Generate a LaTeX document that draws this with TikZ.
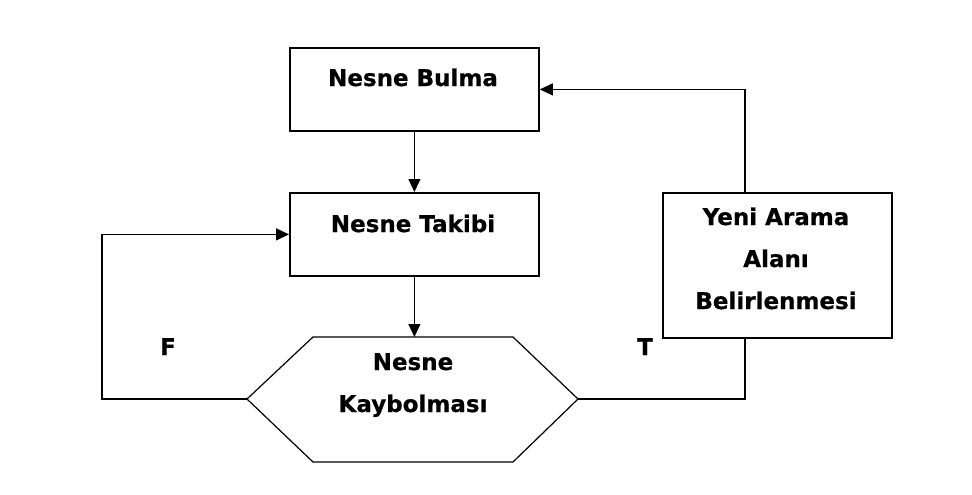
\documentclass[tikz,border=0pt]{standalone}
\usepackage{fontspec}
\setmainfont[BoldFeatures={FakeBold=0.6}]{DejaVu Sans}
\usetikzlibrary{arrows.meta,calc}
\begin{document}
\begin{tikzpicture}[x=1pt,y=-1pt,
  box/.style={draw,line width=1.8pt,minimum width=249pt,minimum height=83pt,inner sep=0pt,anchor=north west},
  txt/.style={font=\fontsize{23}{42}\selectfont\bfseries,inner sep=0pt,anchor=base},
  conn/.style={line width=1.1pt},
  arr/.style={conn,-{Triangle[length=13pt,width=12pt]}},
]
\useasboundingbox (0,0) rectangle (972,495);
\node[box] (bulma) at (289,47) {};
\node[box] (takip) at (289,192) {};
\node[box,minimum width=229pt,minimum height=145pt] (yeni) at (662,192) {};
\coordinate (hexL) at (247,399);
\coordinate (hexR) at (578,399);
\coordinate (hexT) at (413,337);
\draw[line width=1.2pt,line join=miter] (hexL) -- (313,337) -- (513,337) -- (hexR) -- (513,462) -- (313,462) -- cycle;
% texts
\node[txt] (t1) at (413,86) {Nesne Bulma};
\node[txt] (t2) at (413,232) {Nesne Takibi};
\node[txt] (t3a) at (776,225) {Yeni Arama};
\node[txt] (t3b) at (776,267) {Alanı};
\node[txt] (t3c) at (776,309) {Belirlenmesi};
\node[txt] (t4a) at (413,370) {Nesne};
\node[txt] (t4b) at (413,412) {Kaybolması};
\node[txt] (lf) at (168,355) {F};
\node[txt] (lt) at (645,355) {T};
% connectors
\coordinate (lc) at (102,399);
\coordinate (ybot) at (745,337);
\coordinate (ytop) at (745,192);
\draw[arr] (bulma) -- (takip);
\draw[arr] (takip.south) -- (takip.south |- hexT);
\draw[arr,line width=1.5pt] (hexL) -- (lc) |- (takip.west);
\draw[conn] (hexR) -| (ybot);
\draw[arr] (ytop) |- (bulma.east);
\end{tikzpicture}
\end{document}
